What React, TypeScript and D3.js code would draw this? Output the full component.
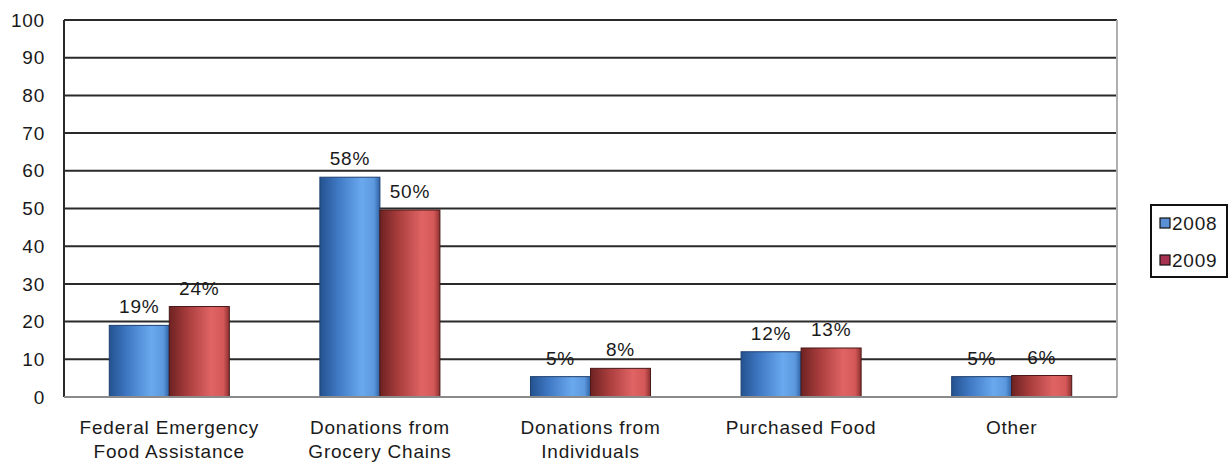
import React from "react";
import * as d3 from "d3";

const categories = [
  ["Federal Emergency", "Food Assistance"],
  ["Donations from", "Grocery Chains"],
  ["Donations from", "Individuals"],
  ["Purchased Food"],
  ["Other"],
];
const series2008 = [19, 58.3, 5.4, 12, 5.4];
const series2009 = [24, 49.6, 7.6, 13, 5.7];
const seriesNames = ["2008", "2009"];
const yTicks = [0, 10, 20, 30, 40, 50, 60, 70, 80, 90, 100];

const W = 1232;
const H = 462;
const margin = { left: 64, right: 115, top: 20, bottom: 65 };

export default function App() {
  const x = d3
    .scaleBand<number>()
    .domain(d3.range(categories.length))
    .range([margin.left, W - margin.right])
    .paddingInner(0.43)
    .paddingOuter(0.215);
  const y = d3.scaleLinear().domain([0, 100]).range([H - margin.bottom, margin.top]);
  const inner = d3.scaleBand<number>().domain([0, 1]).range([0, x.bandwidth()]);
  const data = [series2008, series2009];
  const font = "Arial, 'Liberation Sans', sans-serif";
  const fs = 19;
  const ls = 0.8;
  const legendFill = ["#5b8fd6", "#a83050"];

  return (
    <svg width={W} height={H} style={{ position: "absolute", left: 0, top: 0, background: "#fff" }}>
      <defs>
        <linearGradient id="g0" x1="0" x2="1" y1="0" y2="0">
          <stop offset="0" stopColor="#24528f" />
          <stop offset="0.3" stopColor="#3f78c4" />
          <stop offset="0.7" stopColor="#6aa9ee" />
          <stop offset="0.9" stopColor="#5c98dd" />
          <stop offset="1" stopColor="#2f63a6" />
        </linearGradient>
        <linearGradient id="g1" x1="0" x2="1" y1="0" y2="0">
          <stop offset="0" stopColor="#6e2222" />
          <stop offset="0.3" stopColor="#a83c3c" />
          <stop offset="0.7" stopColor="#e06464" />
          <stop offset="0.9" stopColor="#d45858" />
          <stop offset="1" stopColor="#8e3030" />
        </linearGradient>
      </defs>
      {yTicks.map((t) => (
        <g key={t}>
          {t > 0 && (
            <line x1={margin.left} x2={W - margin.right} y1={y(t)} y2={y(t)} stroke="#2a2a2a" strokeWidth={2} />
          )}
          <text x={45} y={y(t)} dy="0.35em" textAnchor="end" fontFamily={font} fontSize={fs} letterSpacing={ls} fill="#1a1a1a">
            {t}
          </text>
        </g>
      ))}
      <line x1={margin.left} x2={margin.left} y1={margin.top} y2={y(0)} stroke="#2a2a2a" strokeWidth={2} />
      <line x1={W - margin.right} x2={W - margin.right} y1={margin.top} y2={y(0)} stroke="#b0b0b0" strokeWidth={2} />
      {categories.map((c, i) => (
        <g key={i}>
          {data.map((s, k) => {
            const bx = (x(i) as number) + (inner(k) as number);
            const by = y(s[i]);
            return (
              <g key={k}>
                <rect
                  x={bx}
                  y={by}
                  width={inner.bandwidth()}
                  height={y(0) - by}
                  fill={`url(#g${k})`}
                  stroke={k === 0 ? "#1d3f70" : "#4a1818"}
                  strokeWidth={1}
                />
                <text
                  x={bx + inner.bandwidth() / 2}
                  y={by - 12}
                  textAnchor="middle"
                  fontFamily={font}
                  fontSize={fs}
                  letterSpacing={ls}
                  fill="#1a1a1a"
                >
                  {Math.round(s[i])}%
                </text>
              </g>
            );
          })}
          {c.map((line, j) => (
            <text
              key={j}
              x={(x(i) as number) + x.bandwidth() / 2}
              y={434 + j * 24}
              textAnchor="middle"
              fontFamily={font}
              fontSize={fs}
              letterSpacing={ls}
              fill="#1a1a1a"
            >
              {line}
            </text>
          ))}
        </g>
      ))}
      <line x1={margin.left} x2={W - margin.right} y1={y(0)} y2={y(0)} stroke="#8a8a8a" strokeWidth={2} />
      <rect x={1151} y={205} width={76} height={72} fill="#fff" stroke="#111" strokeWidth={2} />
      {seriesNames.map((n, k) => (
        <g key={n}>
          <rect x={1160} y={218 + k * 37} width={10} height={10} fill={legendFill[k]} stroke="#111" strokeWidth={1.2} />
          <text x={1172} y={223 + k * 37} dy="0.35em" fontFamily={font} fontSize={fs} letterSpacing={ls} fill="#1a1a1a">
            {n}
          </text>
        </g>
      ))}
    </svg>
  );
}
